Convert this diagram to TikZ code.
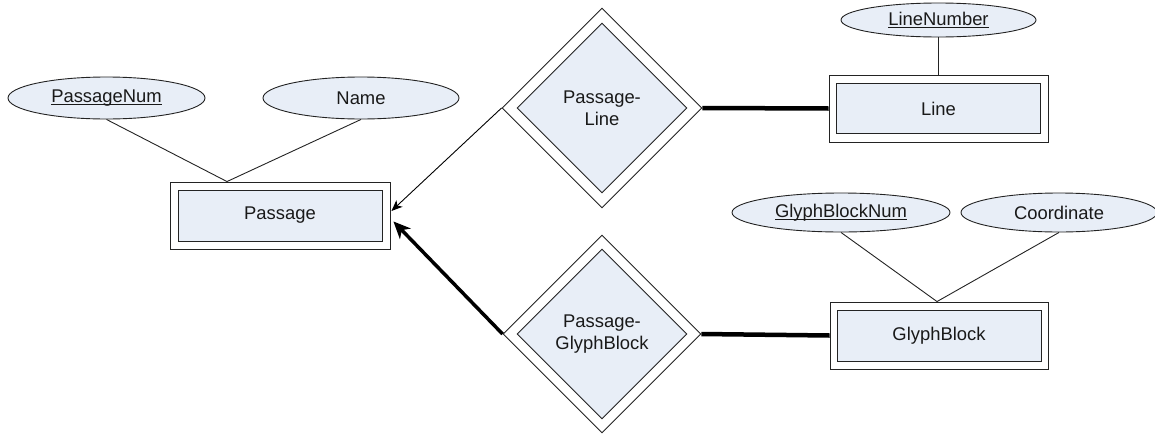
\documentclass[tikz,border=0pt]{standalone}
\usepackage{fontspec}
\setmainfont{Liberation Sans}
\usetikzlibrary{shapes.geometric,arrows.meta,calc}
\definecolor{erfill}{RGB}{232,238,247}
\definecolor{erline}{RGB}{35,35,35}
% key attribute: underline sitting just below the baseline
\newcommand{\ulkey}[1]{\leavevmode\setbox0=\hbox{#1}\rlap{\rule[-2.4pt]{\wd0}{0.9pt}}\box0}
\begin{document}
\begin{tikzpicture}[x=1pt,y=-1pt,
  every node/.style={font=\fontsize{18.4}{22}\selectfont, text=black!90},
  outerbox/.style={draw=erline, line width=0.9pt, rectangle, inner sep=0pt, fill=white},
  innerbox/.style={draw=erline, line width=0.9pt, rectangle, inner sep=0pt, fill=erfill},
  attr/.style={draw=erline, line width=0.9pt, ellipse, inner sep=0pt, fill=erfill},
  reldia/.style={draw=erline, line width=0.9pt, diamond, aspect=1, inner sep=0pt},
  link/.style={draw=erline, line width=0.9pt},
  total/.style={draw=black, line width=4.5pt},
]
\useasboundingbox (0,0) rectangle (1155,434);

% entity sets (weak-style double boxes)
\node[outerbox, minimum width=220pt, minimum height=67pt] (passage) at (280,215.5) {};
\node[innerbox, minimum width=204pt, minimum height=51pt] (passageIn) at (passage.center) {Passage};

\node[outerbox, minimum width=219pt, minimum height=67pt] (lineOut) at (938.5,108.5) {};
\node[innerbox, minimum width=204pt, minimum height=50pt] (lineIn) at (lineOut.center) {Line};

\node[outerbox, minimum width=218pt, minimum height=67pt] (gbOut) at (939,335.5) {};
\node[innerbox, minimum width=204pt, minimum height=51pt] (gbIn) at (gbOut.center) {GlyphBlock};

% identifying relationships
\node[reldia, fill=white, minimum width=200pt, minimum height=200pt] (plOut) at (602,108) {};
\node[reldia, fill=erfill, minimum width=170pt, minimum height=170pt, align=center] (plIn) at (plOut.center) {Passage-\\Line};

\node[reldia, fill=white, minimum width=198pt, minimum height=198pt] (pgOut) at (602,334) {};
\node[reldia, fill=erfill, minimum width=170pt, minimum height=170pt, align=center] (pgIn) at (pgOut.center) {Passage-\\GlyphBlock};

% attributes
\node[attr, minimum width=197pt, minimum height=42pt] (pnum) at (106.5,98) {\ulkey{PassageNum}};
\node[attr, minimum width=196pt, minimum height=42pt] (pname) at (361,98) {Name};
\node[attr, minimum width=195pt, minimum height=34pt] (lnum) at (938.5,20) {\ulkey{LineNumber}};
\node[attr, minimum width=218pt, minimum height=39pt] (gbnum) at (841,212.5) {\ulkey{GlyphBlockNum}};
\node[attr, minimum width=196pt, minimum height=39pt] (gcoord) at (1059,212.5) {Coordinate};

% attribute links
\coordinate (pJoin) at ($(passage.north)+(-53,0)$);
\draw[link] (pnum.south) -- (pJoin);
\draw[link] (pname.south) -- (pJoin);
\draw[link] (lnum.south) -- (lineOut.north);
\coordinate (gJoin) at ($(gbOut.north)+(-2,0)$);
\draw[link] (gbnum.south) -- (gJoin);
\draw[link] (gcoord.south) -- (gJoin);

% total participation
\draw[total] (plOut.east) -- (lineOut.west);
\draw[total] (pgOut.east) -- (gbOut.west);

% relationships pointing to Passage
\coordinate (pTipA) at ($(passage.east)+(1,-4.5)$);
\coordinate (pTipB) at ($(passage.east)+(3,6)$);
\draw[link, draw=black, -{Stealth[length=11pt,width=9pt,inset=3pt]}] (plOut.west) -- (pTipA);
\draw[draw=black, line width=3.5pt, -{Stealth[length=17pt,width=15pt,inset=5pt]}] (pgOut.west) -- (pTipB);
\end{tikzpicture}
\end{document}
